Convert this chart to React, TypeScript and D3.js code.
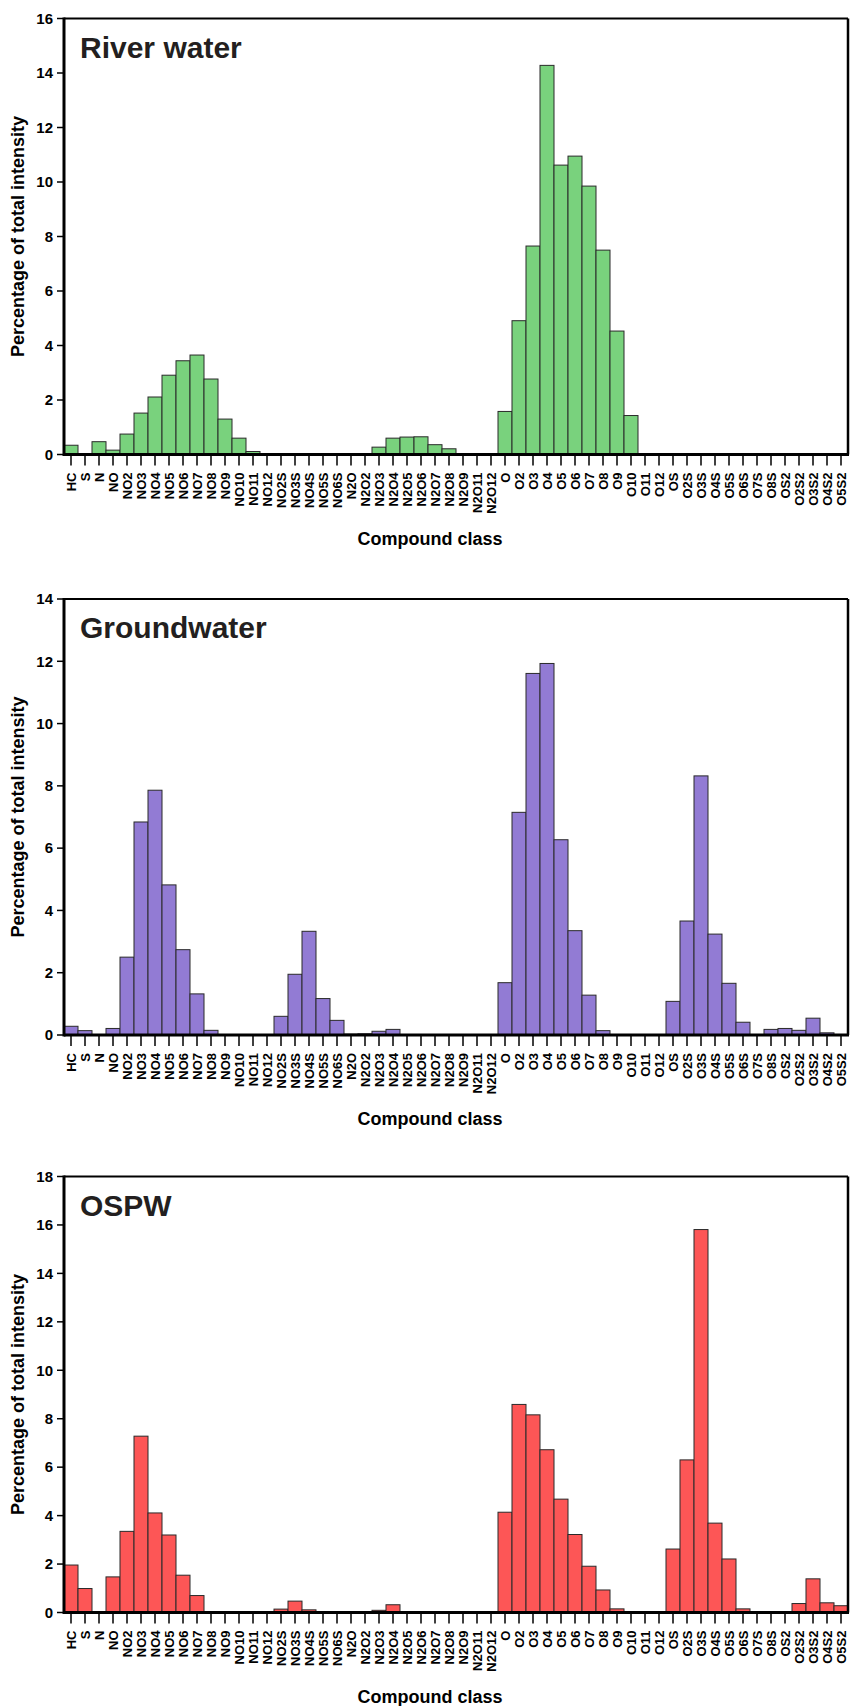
import React from 'react'
import { scaleBand, scaleLinear } from 'd3'

// compound classes on the x axis (same for all three panels)
const categories = [
  'HC', 'S', 'N', 'NO', 'NO2', 'NO3', 'NO4', 'NO5', 'NO6', 'NO7', 'NO8', 'NO9', 'NO10', 'NO11', 'NO12',
  'NO2S', 'NO3S', 'NO4S', 'NO5S', 'NO6S',
  'N2O', 'N2O2', 'N2O3', 'N2O4', 'N2O5', 'N2O6', 'N2O7', 'N2O8', 'N2O9', 'N2O11', 'N2O12',
  'O', 'O2', 'O3', 'O4', 'O5', 'O6', 'O7', 'O8', 'O9', 'O10', 'O11', 'O12',
  'OS', 'O2S', 'O3S', 'O4S', 'O5S', 'O6S', 'O7S', 'O8S',
  'OS2', 'O2S2', 'O3S2', 'O4S2', 'O5S2',
]

const riverWater = [
  0.34, 0.02, 0.47, 0.16, 0.75, 1.52, 2.11, 2.91, 3.44, 3.65, 2.77, 1.30, 0.60, 0.11, 0.02,
  0.01, 0.01, 0.01, 0.01, 0.01,
  0.03, 0.02, 0.27, 0.60, 0.64, 0.65, 0.36, 0.21, 0, 0, 0.03,
  1.58, 4.91, 7.65, 14.28, 10.62, 10.95, 9.85, 7.50, 4.53, 1.43, 0, 0,
  0, 0, 0, 0, 0, 0, 0, 0,
  0, 0, 0, 0, 0,
]

const groundwater = [
  0.28, 0.14, 0, 0.21, 2.50, 6.84, 7.86, 4.82, 2.74, 1.32, 0.15, 0, 0, 0, 0,
  0.60, 1.95, 3.33, 1.17, 0.47,
  0.03, 0.04, 0.12, 0.18, 0, 0, 0, 0, 0, 0, 0,
  1.68, 7.15, 11.61, 11.93, 6.27, 3.35, 1.28, 0.14, 0, 0, 0, 0,
  1.08, 3.66, 8.32, 3.24, 1.66, 0.41, 0, 0.18,
  0.21, 0.15, 0.54, 0.07, 0,
]

const ospw = [
  1.96, 0.99, 0, 1.47, 3.35, 7.28, 4.11, 3.20, 1.54, 0.70, 0, 0, 0, 0, 0,
  0.14, 0.47, 0.11, 0, 0,
  0, 0.03, 0.09, 0.32, 0.02, 0, 0, 0, 0, 0, 0,
  4.14, 8.59, 8.16, 6.72, 4.68, 3.22, 1.91, 0.93, 0.15, 0, 0, 0,
  2.62, 6.30, 15.81, 3.69, 2.21, 0.15, 0, 0,
  0, 0.37, 1.39, 0.40, 0.28,
]

const riverTicks = [0, 2, 4, 6, 8, 10, 12, 14, 16]
const groundTicks = [0, 2, 4, 6, 8, 10, 12, 14]
const ospwTicks = [0, 2, 4, 6, 8, 10, 12, 14, 16, 18]

const panels = [
  { title: 'River water', values: riverWater, ticks: riverTicks, yMax: 16, color: '#79d27d', top: 18.5 },
  { title: 'Groundwater', values: groundwater, ticks: groundTicks, yMax: 14, color: '#927bd4', top: 599 },
  { title: 'OSPW', values: ospw, ticks: ospwTicks, yMax: 18, color: '#fd5656', top: 1176.5 },
]

const width = 850
const height = 1706
const left = 64
const right = 848
const plotH = 436
const font = '"Liberation Sans", Arial, Helvetica, sans-serif'

let Panel = ({ p }) => {
  let xScale = scaleBand().domain(categories).range([left, right]).padding(0)
  let yScale = scaleLinear().domain([0, p.yMax]).range([p.top + plotH, p.top])
  let base = yScale(0)

  return (
    <g>
      {/* bars */}
      {categories.map((c, i) => {
        let v = p.values[i]
        if (!v) return null
        return (
          <rect key={c}
            x={xScale(c)}
            y={yScale(v)}
            width={xScale.bandwidth()}
            height={base - yScale(v)}
            fill={p.color}
            stroke='#2a2a2a'
            strokeWidth={1} />
        )
      })}

      {/* frame: thin top / right, thick left / bottom */}
      <line x1={left} x2={right} y1={p.top} y2={p.top} stroke='#000' strokeWidth={2} />
      <line x1={right} x2={right} y1={p.top} y2={base} stroke='#000' strokeWidth={2.5} />
      <line x1={left} x2={left} y1={p.top - 1} y2={base + 1.5} stroke='#000' strokeWidth={3} />
      <line x1={left} x2={right + 1} y1={base} y2={base} stroke='#000' strokeWidth={3} />

      {/* y ticks */}
      {p.ticks.map(t => (
        <g key={t} transform={`translate(0,${yScale(t)})`}>
          <line x1={57} x2={left} stroke='#000' strokeWidth={1.5} />
          <text x={53} dy='.35em' textAnchor='end' fontSize={15} fontWeight='bold' fontFamily={font}>{t}</text>
        </g>
      ))}

      {/* x ticks */}
      {categories.map(c => {
        let cx = xScale(c) + xScale.bandwidth() / 2
        return (
          <g key={c} transform={`translate(${cx},${base})`}>
            <line y1={0} y2={11} stroke='#000' strokeWidth={1.5} />
            <text transform='translate(0,18) rotate(-90)' textAnchor='end' dy='.36em'
              fontSize={13} fontWeight='bold' fontFamily={font}>{c}</text>
          </g>
        )
      })}

      <text x={80} y={p.top + 39} fontSize={30} fontWeight='bold' fill='#231f20' fontFamily={font}>{p.title}</text>

      <text x={430} y={base + 90} textAnchor='middle' fontSize={18} fontWeight='bold' fontFamily={font}>Compound class</text>

      <text transform={`translate(18,${p.top + plotH / 2}) rotate(-90)`} textAnchor='middle' dy='.35em'
        fontSize={18} fontWeight='bold' fontFamily={font}>Percentage of total intensity</text>
    </g>
  )
}

let App = () => {
  return (
    <svg width={width} height={height} style={{ position: 'absolute', left: 0, top: 0, background: '#fff' }}>
      {panels.map(p => <Panel key={p.title} p={p} />)}
    </svg>
  )
}

export default App
